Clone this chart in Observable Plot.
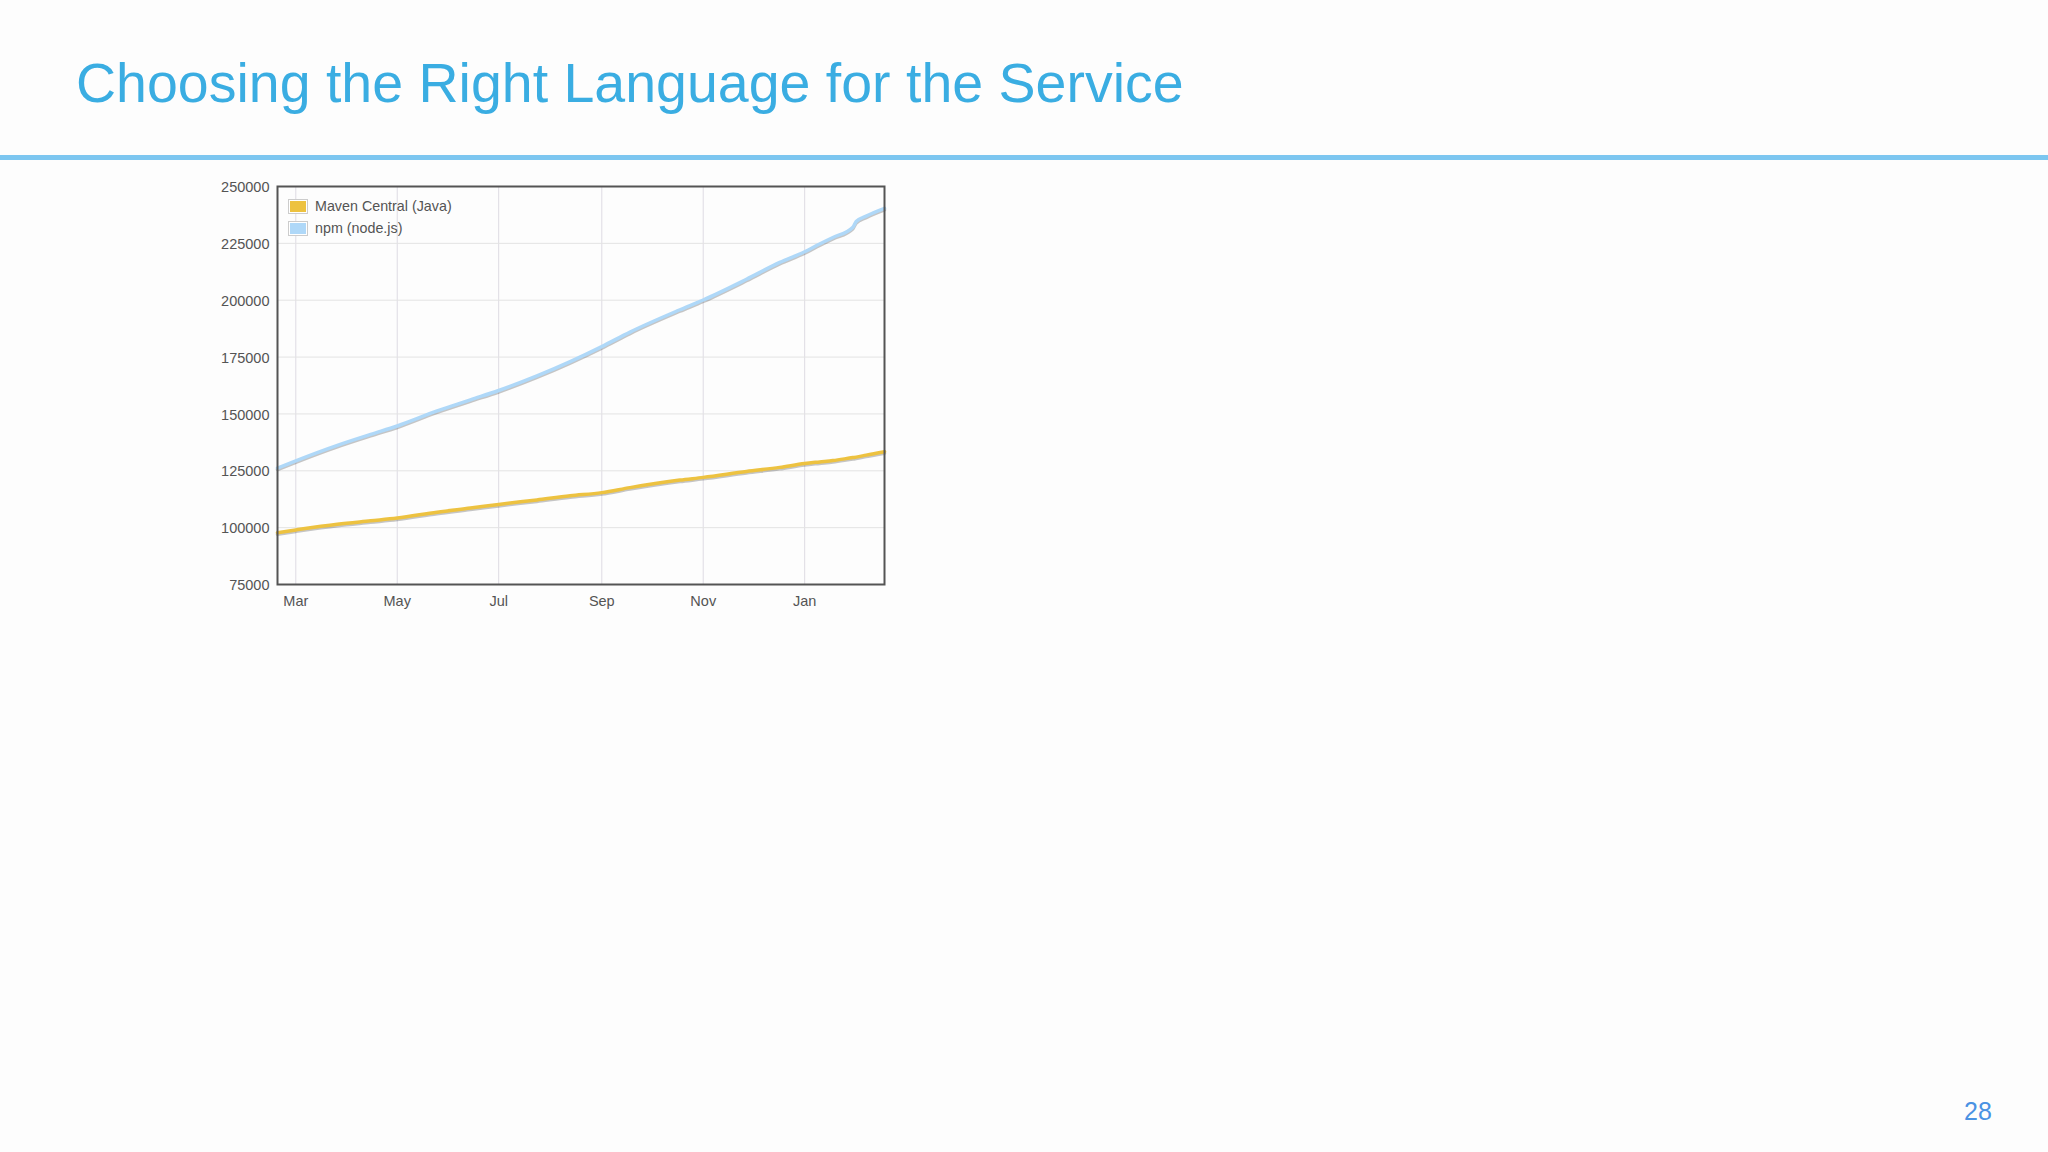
<!DOCTYPE html>
<html>
<head>
<meta charset="utf-8">
<script src="https://cdn.jsdelivr.net/npm/d3@7"></script>
<script src="https://cdn.jsdelivr.net/npm/@observablehq/plot@0.6"></script>
<style>
html, body { margin: 0; padding: 0; background: #fdfdfd; }
#page { position: relative; width: 2048px; height: 1152px; overflow: hidden; font-family: "Liberation Sans", Arial, Helvetica, sans-serif; }
#title { position: absolute; left: 76px; top: 56px; font-size: 55.5px; line-height: 55.5px; color: #3aade2; white-space: nowrap; }
#rule { position: absolute; left: 0; top: 155px; width: 2048px; height: 5px; background: #7cc6f0; }
#chart { position: absolute; left: 0; top: 0; }
#legend { position: absolute; left: 288px; top: 199px; font-size: 14.3px; color: #545454; }
.row { position: relative; height: 21.5px; }
.sw { position: absolute; left: 0; top: 0; width: 18px; height: 13px; border: 1px solid #cccccc; background: #fff; }
.sw div { position: absolute; left: 1px; top: 1px; width: 16px; height: 11px; }
.lab { position: absolute; left: 27px; top: -1px; line-height: 17px; white-space: nowrap; }
#pagenum { position: absolute; left: 1964px; top: 1099px; font-size: 25px; line-height: 25px; color: #4a92e3; }
</style>
</head>
<body>
<div id="page">
  <div id="title">Choosing the Right Language for the Service</div>
  <div id="rule"></div>
  <div id="chart"></div>
  <div id="legend"></div>
  <div id="pagenum">28</div>
</div>
<script>
// ---- data ----
const seriesNames = ["Maven Central (Java)", "npm (node.js)"];
const seriesColors = ["#edc240", "#afd8f8"];
const dates = ["2015-02-18","2015-03-01","2015-03-26","2015-04-15","2015-05-01","2015-05-25","2015-06-14","2015-07-01","2015-07-24","2015-08-13","2015-09-01","2015-09-18","2015-10-18","2015-11-01","2015-11-27","2015-12-17","2016-01-01","2016-01-10","2016-01-18","2016-01-30","2016-02-01","2016-02-07","2016-02-18"];
const mavenValues = [97800, 99000, 101500, 103000, 104200, 106800, 108600, 110200, 112200, 114000, 115400, 117600, 120900, 122100, 124700, 126500, 128200, 128900, 129500, 130800, 131000, 131900, 133400];
const npmValues = [126200, 129400, 136200, 141000, 144700, 151300, 156200, 160300, 166700, 173000, 179600, 186000, 195800, 200100, 209200, 216600, 221300, 224700, 227600, 232100, 234600, 237000, 240400];
const xDomain = ["2015-02-18", "2016-02-18"];
const xTicks = ["2015-03-01","2015-05-01","2015-07-01","2015-09-01","2015-11-01","2016-01-01"];
const yTicks = [75000, 100000, 125000, 150000, 175000, 200000, 225000, 250000];

// ---- build ----
const parse = s => new Date(s + "T00:00:00Z");
const rows = [];
dates.forEach((d, i) => {
  rows.push({date: parse(d), value: mavenValues[i], series: seriesNames[0]});
  rows.push({date: parse(d), value: npmValues[i], series: seriesNames[1]});
});
const xt = xTicks.map(parse);

const chart = Plot.plot({
  width: 1000,
  height: 640,
  marginLeft: 277,
  marginRight: 116,
  marginTop: 186,
  marginBottom: 56,
  style: {background: "transparent", fontFamily: "'Liberation Sans', Arial, sans-serif", fontSize: "14.5px", color: "#545454"},
  x: {type: "utc", domain: xDomain.map(parse)},
  y: {domain: [yTicks[0], yTicks[yTicks.length - 1]]},
  color: {domain: seriesNames, range: seriesColors},
  marks: [
    Plot.gridX(xt, {stroke: "#dedbe3", strokeOpacity: 1}),
    Plot.gridY(yTicks, {stroke: "#e3e3e3", strokeOpacity: 1}),
    Plot.line(rows, {x: "date", y: "value", z: "series", stroke: "rgba(0,0,0,0.22)", strokeWidth: 3.5, dy: 1.5, curve: "monotone-x"}),
    Plot.line(rows, {x: "date", y: "value", z: "series", stroke: "series", strokeWidth: 3.5, curve: "monotone-x"}),
    Plot.frame({stroke: "#545454", strokeWidth: 2}),
    Plot.axisX(xt, {tickFormat: d3.utcFormat("%b"), tickSize: 0, tickPadding: 11, fontSize: 14.5, fill: "#545454", label: null}),
    Plot.axisY(yTicks, {tickFormat: d => String(d), tickSize: 0, tickPadding: 8, dy: 1, fontSize: 14.5, fill: "#545454", label: null})
  ]
});
document.getElementById("chart").appendChild(chart);

// legend
const legend = document.getElementById("legend");
seriesNames.forEach((name, i) => {
  const r = document.createElement("div");
  r.className = "row";
  r.innerHTML = `<div class="sw"><div style="background:${seriesColors[i]}"></div></div><span class="lab">${name}</span>`;
  legend.appendChild(r);
});
</script>
</body>
</html>
